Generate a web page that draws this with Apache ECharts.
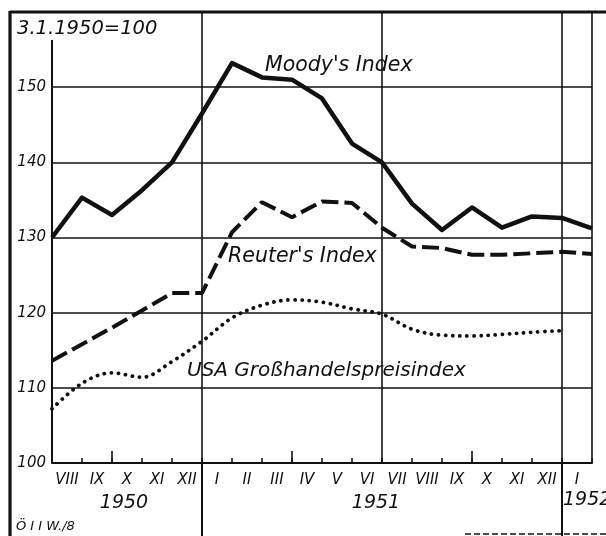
<!DOCTYPE html>
<html>
<head>
<meta charset="utf-8">
<script src="https://cdn.jsdelivr.net/npm/echarts@6/dist/echarts.min.js"></script>
<style>
html,body{margin:0;padding:0;background:#fff;}
#c{width:606px;height:536px;}
</style>
</head>
<body>
<div id="c"></div>
<script>
// Month labels (Aug 1950 .. Jan 1952)
const monthLabels = ['VIII','IX','X','XI','XII','I','II','III','IV','V','VI','VII','VIII','IX','X','XI','XII','I'];
// Year labels
const yearLabels = ['1950','1951','1952'];
// Y tick values
const yTicks = [100,110,120,130,140,150];
// Series values at month boundaries (0 = 1 Aug 1950)
const moodys  = [130,135.3,133,136.3,140,146.5,153.2,151.3,151,148.5,142.5,140,134.5,131,134,131.3,132.8,132.6,131.2];
const reuters = [113.6,115.8,118,120.3,122.6,122.6,130.7,134.7,132.7,134.8,134.6,131.3,128.8,128.6,127.7,127.7,127.9,128.1,127.8];
const usa     = [107.2,110.6,112,111.4,113.5,116.2,119.3,121,121.7,121.4,120.5,119.8,117.8,117,116.9,117.1,117.4,117.6];

const INK = '#111';
const FONT = 'DejaVu Sans';
const toPts = arr => arr.map((v, i) => [i, v]);

const chart = echarts.init(document.getElementById('c'), null, {renderer: 'canvas'});

const option = {
  backgroundColor: '#fff',
  animation: false,
  grid: {left: 52, right: 14, top: 12, bottom: 73},
  xAxis: [
    {
      type: 'category', data: monthLabels, boundaryGap: true,
      axisLine: {show: true, lineStyle: {color: INK, width: 2}},
      axisTick: {show: true, inside: true, length: 5, interval: 0, lineStyle: {color: INK, width: 1.5}},
      axisLabel: {interval: 0, color: INK, fontFamily: FONT, fontStyle: 'italic', fontSize: 15, margin: 10},
      splitLine: {show: false}
    },
    {type: 'value', min: 0, max: 18, show: false}
  ],
  yAxis: {
    type: 'value', min: 100, max: 160, interval: 10,
    axisLine: {show: false}, axisTick: {show: false},
    axisLabel: {
      color: INK, fontFamily: FONT, fontStyle: 'italic', fontSize: 15, margin: 6,
      formatter: v => (yTicks.indexOf(v) >= 0 ? String(v) : '')
    },
    splitLine: {show: true, lineStyle: {color: INK, width: 1.5}}
  },
  series: [
    {
      name: "Moody's Index", type: 'line', xAxisIndex: 1, data: toPts(moodys),
      showSymbol: false, lineStyle: {color: INK, width: 4.5, join: 'round'},
      markLine: {
        silent: true, symbol: 'none', label: {show: false},
        lineStyle: {color: INK, type: 'solid', width: 1.6},
        data: [
          [{coord: [2, 100]}, {coord: [2, 101.6]}],
          [{coord: [8, 100]}, {coord: [8, 101.6]}],
          [{coord: [14, 100]}, {coord: [14, 101.6]}],
          [{coord: [5, 100]}, {coord: [5, 160]}],
          [{coord: [11, 100]}, {coord: [11, 160]}],
          [{coord: [17, 100]}, {coord: [17, 160]}],
          [{coord: [18, 100]}, {coord: [18, 160]}]
        ]
      },
      z: 5
    },
    {
      name: "Reuter's Index", type: 'line', xAxisIndex: 1, data: toPts(reuters),
      showSymbol: false, lineStyle: {color: INK, width: 4, type: [17, 6], cap: 'butt'},
      z: 4
    },
    {
      name: 'USA Großhandelspreisindex', type: 'line', xAxisIndex: 1, data: toPts(usa),
      showSymbol: false, smooth: 0.35, lineStyle: {color: INK, width: 3.8, type: [0.1, 7], cap: 'round'},
      z: 4
    }
  ]
};
chart.setOption(option);

const px = v => chart.convertToPixel({xAxisIndex: 1}, v);
const py = v => chart.convertToPixel({yAxisIndex: 0}, v);
const x0 = px(0), yBase = py(100), yTop = py(160);

function txt(x, y, s, size, align) {
  return {type: 'text', x: x, y: y, z: 10,
    style: {text: s, fill: INK, font: 'italic ' + size + 'px "' + FONT + '"', textAlign: align || 'left', textVerticalAlign: 'middle'}};
}
function ln(x1, y1, x2, y2, w) {
  return {type: 'line', z: 9, shape: {x1: x1, y1: y1, x2: x2, y2: y2}, style: {stroke: INK, lineWidth: w}};
}

chart.setOption({
  graphic: [
    ln(10, yTop, 606, yTop, 3.2),
    ln(10, yTop - 1, 10, 536, 3.2),
    ln(x0, 40, x0, yBase, 2),
    ln(px(5), yBase, px(5), 536, 2),
    ln(px(17), yBase, px(17), 536, 2),
    {type: 'line', z: 9, shape: {x1: 465, y1: 534, x2: 606, y2: 534}, style: {stroke: INK, lineWidth: 1.5, lineDash: [6, 3]}},
    txt(17, 29, '3.1.1950=100', 19.5),
    txt(px(7.1), py(152.9), "Moody's Index", 20.5),
    txt(px(5.87), py(127.5), "Reuter's Index", 20.5),
    txt(px(4.5), py(112.3), 'USA Großhandelspreisindex', 20),
    txt((px(0) + px(5)) / 2 - 3, 503, yearLabels[0], 19, 'center'),
    txt(px(11) - 6, 503, yearLabels[1], 19, 'center'),
    txt(px(17) + 1, 500, yearLabels[2], 19, 'left'),
    txt(16, 527, 'Ö I I W./8', 13)
  ]
});
</script>
</body>
</html>
